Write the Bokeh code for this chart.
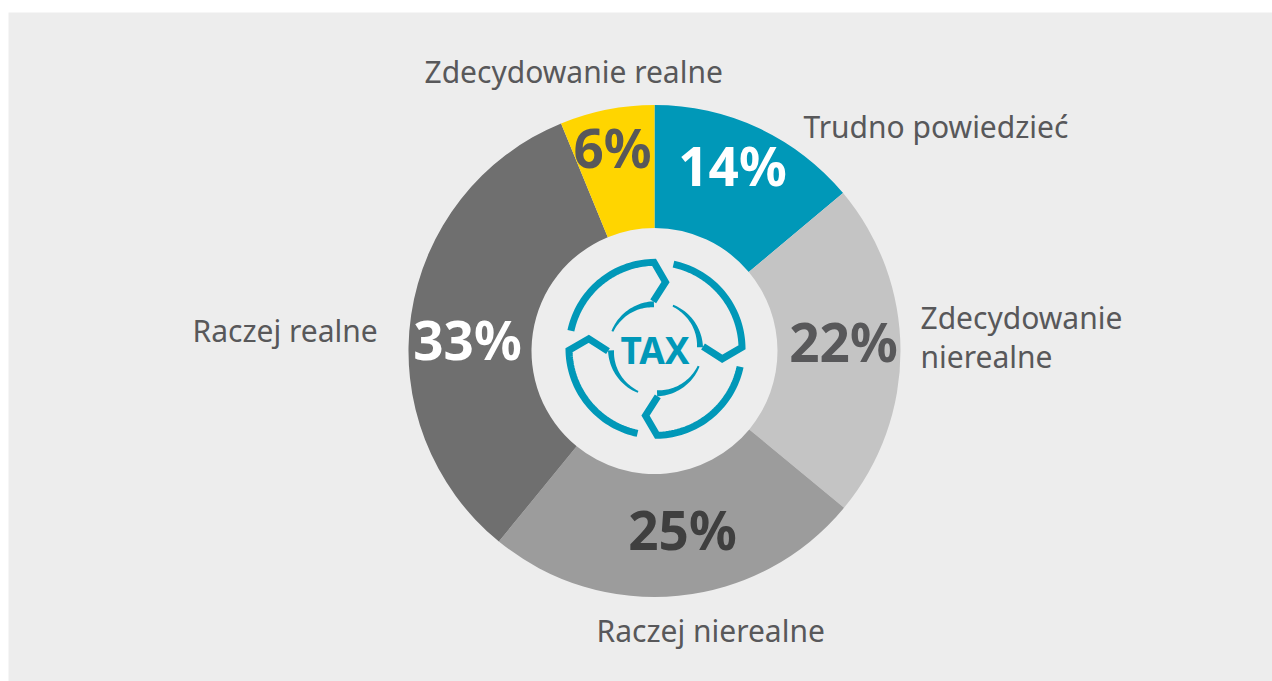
import numpy as np
from bokeh.plotting import figure
from bokeh.models import Range1d, ColumnDataSource
from bokeh.core.properties import value
from bokeh.embed import file_html
from bokeh.resources import INLINE

categories = ["Trudno powiedzieć", "Zdecydowanie nierealne", "Raczej nierealne", "Raczej realne", "Zdecydowanie realne"]
shares = [13.9, 22.1, 24.9, 32.9, 6.2]
pct_labels = ["14%", "22%", "25%", "33%", "6%"]
colors = ["#0098b8", "#c4c4c4", "#9c9c9c", "#6f6f6f", "#ffd500"]
pct_colors = ["#ffffff", "#58585a", "#3f3f3f", "#ffffff", "#58585a"]
pct_pos = [(732, 165), (843, 341), (682, 529), (467, 339), (612, 147)]
label_lines = [["Trudno powiedzieć"], ["Zdecydowanie", "nierealne"], ["Raczej nierealne"], ["Raczej realne"], ["Zdecydowanie realne"]]
label_pos = [[(803, 126)], [(920, 317), (920, 356)], [(596, 630)], [(192, 330)], [(424, 71)]]

W, H = 1272, 681
def Y(py):
    return 681 - py

p = figure(width=W, height=H, output_backend="svg", toolbar_location=None,
           x_range=Range1d(0, 1272), y_range=Range1d(0, 681), min_border=0)
p.axis.visible = False
p.grid.visible = False
p.outline_line_color = None
p.background_fill_color = "#ffffff"
p.border_fill_color = "#ffffff"

p.quad(left=8, right=1272, bottom=0, top=Y(12), fill_color="#ededed", line_color=None)

cx, cy = 654, 350.5
R_out, R_in = 246, 123
fr = np.cumsum([0] + shares) / sum(shares)
start = np.pi / 2 - 2 * np.pi * fr[1:]
end = np.pi / 2 - 2 * np.pi * fr[:-1]
src = ColumnDataSource(dict(start=start.tolist(), end=end.tolist(), color=colors, cat=categories))
p.annular_wedge(x=cx, y=Y(cy), inner_radius=R_in, outer_radius=R_out, start_angle="start", end_angle="end",
                direction="anticlock", fill_color="color", line_color=None, source=src)

# Icon
ic_x, ic_y = 655, 348.3
teal = "#0098b8"
for k in range(4):
    rot = np.radians(-90 * k)
    def place(r, a):
        th = a + rot
        return ic_x + r * np.cos(th), Y(ic_y) + r * np.sin(th)
    a_out = np.radians(np.linspace(168, 91, 40))
    xo, yo = place(86.5, a_out)
    def rotxy(dx, dy):
        return (ic_x + dx * np.cos(rot) - dy * np.sin(rot), Y(ic_y) + dx * np.sin(rot) + dy * np.cos(rot))
    c1 = rotxy(10, 66.7)
    c2 = rotxy(-2.3, 47.5)
    p.line(list(xo) + [c1[0], c2[0]], list(yo) + [c1[1], c2[1]], line_color=teal, line_width=7, line_join="miter")
    a_in = np.radians(np.linspace(92, 158, 30))
    th = np.linspace(6, 2, 30)
    xa, ya = place(47.5, a_in)
    xb, yb = place(47.5 - th, a_in)
    p.patch(list(xa) + list(xb[::-1]), list(ya) + list(yb[::-1]), fill_color=teal, line_color=None)

p.text(x=[654.5], y=[Y(349)], text=["TAX"], text_font=value("Noto Sans"), text_font_style="bold", text_font_size="37px",
       text_color=teal, text_align="center", text_baseline="middle")

p.text(x=[q[0] for q in pct_pos], y=[Y(q[1]) for q in pct_pos], text=pct_labels,
       text_color=pct_colors, text_font=value("Noto Sans"), text_font_style="bold", text_font_size="53px",
       text_align="center", text_baseline="middle")

xs, ys, ts = [], [], []
for lines, pos in zip(label_lines, label_pos):
    for t, q in zip(lines, pos):
        ts.append(t); xs.append(q[0]); ys.append(Y(q[1]))
p.text(x=xs, y=ys, text=ts, text_color="#58585a", text_font=value("Noto Sans"), text_font_size="30px",
       text_align="left", text_baseline="middle")

open("out.html", "w").write(file_html(p, INLINE))
